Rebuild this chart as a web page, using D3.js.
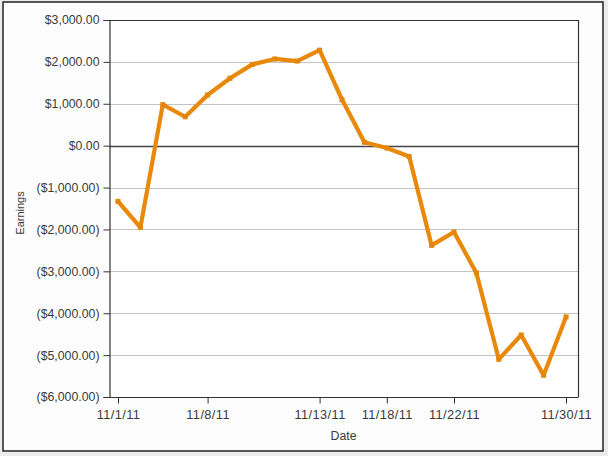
<!DOCTYPE html>
<html>
<head>
<meta charset="utf-8">
<script src="https://cdn.jsdelivr.net/npm/d3@7"></script>
<style>
  html, body { margin: 0; padding: 0; background: #ececec; }
  svg { display: block; }
  text { font-family: Arial, "Liberation Sans", sans-serif; }
</style>
</head>
<body>
<script>
// ---- data ----
const pointIndex = d3.range(21);
const earnings = [-1330, -1950, 980, 690, 1210, 1610, 1940, 2070, 2020, 2280,
                  1100, 80, -55, -260, -2380, -2060, -3040, -5100, -4520, -5480, -4090];
const tickIndex = [0, 4, 9, 12, 15, 20];
const tickLabels = ["11/1/11", "11/8/11", "11/13/11", "11/18/11", "11/22/11", "11/30/11"];
const yTicks = [3000, 2000, 1000, 0, -1000, -2000, -3000, -4000, -5000, -6000];

const W = 608, H = 456;
const m = { left: 109, right: 578, top: 20, bottom: 397 };
const FS = 12.3;

const svg = d3.select("body").append("svg").attr("width", W).attr("height", H);

// outer frame
svg.append("rect").attr("x", 3).attr("y", 2).attr("width", 600).attr("height", 449)
  .attr("fill", "#fdfdfd").attr("stroke", "#222").attr("stroke-width", 1.5);

// plot bg
svg.append("rect").attr("x", m.left).attr("y", m.top)
  .attr("width", m.right - m.left).attr("height", m.bottom - m.top).attr("fill", "#fff");

const x = d3.scalePoint().domain(pointIndex).range([118, 566]);
const y = d3.scaleLinear().domain([-6000, 3000]).range([m.bottom, m.top]);

const fmt = v => {
  const s = "$" + d3.format(",.2f")(Math.abs(v));
  return v < 0 ? "(" + s + ")" : s;
};

// gridlines
svg.append("g").selectAll("line").data(yTicks.filter(v => v !== 0 && v !== -6000 && v !== 3000))
  .join("line")
  .attr("x1", m.left).attr("x2", m.right)
  .attr("y1", d => Math.round(y(d)) + 0.5).attr("y2", d => Math.round(y(d)) + 0.5)
  .attr("stroke", "#c4c4c4").attr("stroke-width", 1);

// zero line
svg.append("line").attr("x1", m.left).attr("x2", m.right)
  .attr("y1", Math.round(y(0)) + 0.5).attr("y2", Math.round(y(0)) + 0.5)
  .attr("stroke", "#444").attr("stroke-width", 1.3);

// plot border (top, right)
svg.append("path")
  .attr("d", `M${m.left},${m.top + 0.5}H${m.right + 0.5}V${m.bottom}`)
  .attr("fill", "none").attr("stroke", "#333").attr("stroke-width", 1.2);

// y axis
const yAxis = d3.axisLeft(y).tickValues(yTicks).tickFormat(fmt).tickSize(6).tickPadding(4);
const gy = svg.append("g").attr("transform", `translate(${m.left + 0.5},0)`).call(yAxis);
gy.select(".domain").attr("stroke", "#333").attr("stroke-width", 1.2);
gy.selectAll(".tick line").attr("stroke", "#333");
gy.selectAll("text").attr("font-size", FS).attr("fill", "#3a3a3a")
  .style("font-family", "Arial, 'Liberation Sans', sans-serif");

// x axis
const xAxis = d3.axisBottom(x).tickValues(tickIndex)
  .tickFormat(d => tickLabels[tickIndex.indexOf(d)]).tickSize(6).tickPadding(6);
const gx = svg.append("g").attr("transform", `translate(0,${m.bottom + 0.5})`).call(xAxis);
gx.select(".domain").attr("d", `M${m.left},0H${m.right + 0.5}`)
  .attr("stroke", "#333").attr("stroke-width", 1.2);
gx.selectAll(".tick line").attr("stroke", "#333");
gx.selectAll("text").attr("font-size", 12.8).attr("fill", "#3a3a3a")
  .attr("letter-spacing", 0.4)
  .style("font-family", "Arial, 'Liberation Sans', sans-serif");

// axis titles
svg.append("text").attr("x", (m.left + m.right) / 2).attr("y", 440)
  .attr("text-anchor", "middle").attr("font-size", FS).attr("fill", "#3a3a3a").text("Date");
svg.append("text").attr("transform", "translate(24,213) rotate(-90)")
  .attr("text-anchor", "middle").attr("font-size", 11).attr("fill", "#3a3a3a").text("Earnings");

// line
const line = d3.line().x((d, i) => x(pointIndex[i])).y(d => y(d));
svg.append("path").datum(earnings).attr("d", line)
  .attr("fill", "none").attr("stroke", "#e8890c").attr("stroke-width", 4.2)
  .attr("stroke-linejoin", "round").attr("stroke-linecap", "square");

// vertex markers (subtle)
svg.append("g").selectAll("rect").data(earnings).join("rect")
  .attr("x", (d, i) => x(pointIndex[i]) - 2.5).attr("y", d => y(d) - 2.5)
  .attr("width", 5).attr("height", 5).attr("fill", "#e48608");
</script>
</body>
</html>
